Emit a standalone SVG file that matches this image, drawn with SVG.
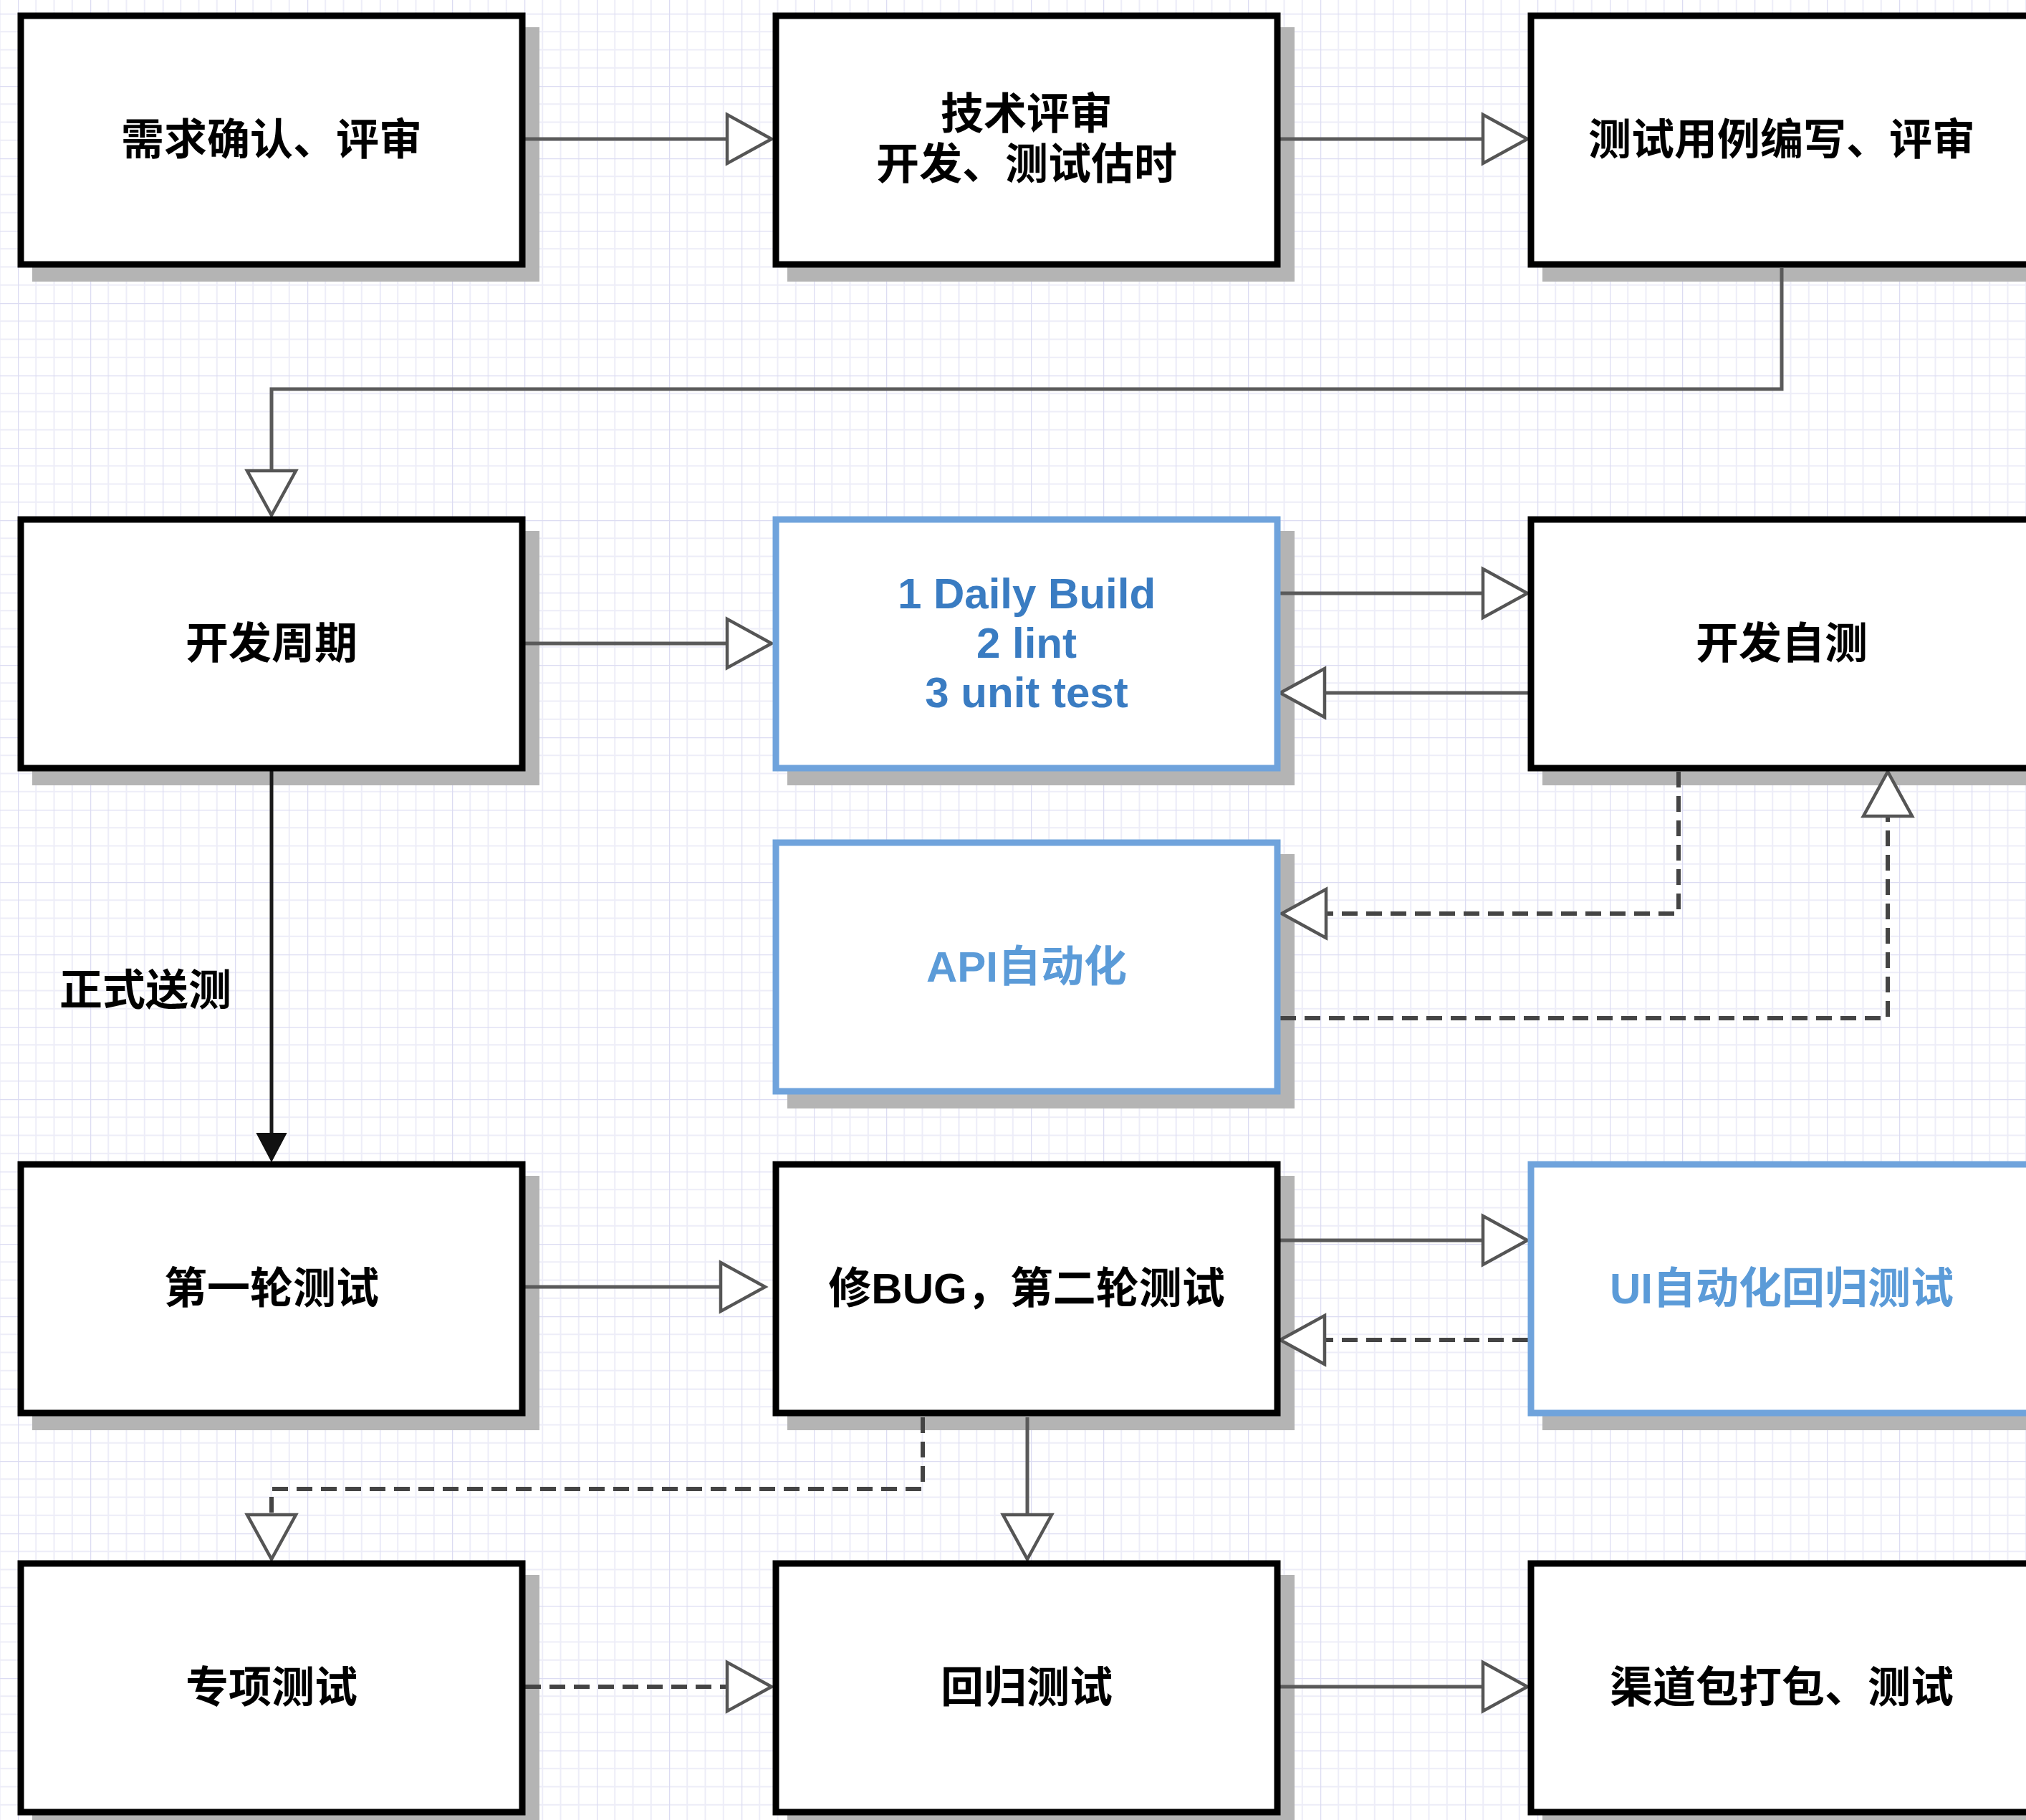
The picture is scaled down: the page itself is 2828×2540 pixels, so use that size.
<svg xmlns="http://www.w3.org/2000/svg" width="2828" height="2540" viewBox="0 0 2828 2540">
  <style>
    .box{fill:#ffffff;stroke:#000000;stroke-width:9}
    .bbox{fill:#ffffff;stroke:#6fa3dc;stroke-width:9}
    .shadow{fill:#b4b4b4}
    .t{font-family:"Liberation Sans","Noto Sans CJK SC",sans-serif;font-weight:bold;font-size:60px;text-anchor:middle;dominant-baseline:central;fill:#000000}
    .tb1{fill:#3a7cc2}
    .tb2{fill:#5b9bd8}
    .c{fill:none;stroke:#5a5a5a;stroke-width:5}
    .d{fill:none;stroke:#444444;stroke-width:6;stroke-dasharray:22 12}
    .k{fill:none;stroke:#1a1a1a;stroke-width:5}
  </style>
  <defs>
    <pattern id="grid" x="25" y="19" width="101" height="101" patternUnits="userSpaceOnUse">
      <path d="M25.25,0V101M50.5,0V101M75.75,0V101M0,25.25H101M0,50.5H101M0,75.75H101" stroke="#ededf8" stroke-width="2" fill="none"/>
      <path d="M0,0V101M0,0H101" stroke="#dcdcf2" stroke-width="2.5" fill="none"/>
    </pattern>
    <marker id="open" markerUnits="userSpaceOnUse" viewBox="-5 -5 72 78" markerWidth="72" markerHeight="78" refX="0" refY="34" orient="auto">
      <path d="M0,0 L62,34 L0,68 Z" fill="#ffffff" stroke="#555555" stroke-width="4.5" stroke-linejoin="miter"/>
    </marker>
    <marker id="filled" markerUnits="userSpaceOnUse" viewBox="-2 -2 42 44" markerWidth="42" markerHeight="44" refX="0" refY="20" orient="auto">
      <path d="M0,0 L38,20 L0,40 Z" fill="#111111" stroke="#111111" stroke-width="2"/>
    </marker>
  </defs>
  <rect x="0" y="0" width="2828" height="2540" fill="#ffffff"/>
  <rect x="0" y="0" width="2828" height="2540" fill="url(#grid)"/>

  <g id="shadows">
    <rect class="shadow" x="45" y="38" width="708" height="355"/>
    <rect class="shadow" x="1099" y="38" width="708" height="355"/>
    <rect class="shadow" x="2153" y="38" width="708" height="355"/>
    <rect class="shadow" x="45" y="741" width="708" height="355"/>
    <rect class="shadow" x="1099" y="741" width="708" height="355"/>
    <rect class="shadow" x="2153" y="741" width="708" height="355"/>
    <rect class="shadow" x="1099" y="1192" width="708" height="355"/>
    <rect class="shadow" x="45" y="1641" width="708" height="355"/>
    <rect class="shadow" x="1099" y="1641" width="708" height="355"/>
    <rect class="shadow" x="2153" y="1641" width="708" height="355"/>
    <rect class="shadow" x="45" y="2198" width="708" height="355"/>
    <rect class="shadow" x="1099" y="2198" width="708" height="355"/>
    <rect class="shadow" x="2153" y="2198" width="708" height="355"/>
  </g>

  <g id="connectors">
    <path class="c" d="M733,194 H1015" marker-end="url(#open)"/>
    <path class="c" d="M1787,194 H2070" marker-end="url(#open)"/>
    <path class="c" d="M2487,374 V543 H379 V657" marker-end="url(#open)"/>
    <path class="c" d="M733,898 H1015" marker-end="url(#open)"/>
    <path class="c" d="M1787,828 H2070" marker-end="url(#open)"/>
    <path class="c" d="M2133,967 H1849" marker-end="url(#open)"/>
    <path class="d" d="M2343,1077 V1275 H1851" marker-end="url(#open)"/>
    <path class="d" d="M1787,1421 H2635 V1139" marker-end="url(#open)"/>
    <path class="k" d="M379,1076 V1582" marker-end="url(#filled)"/>
    <path class="c" d="M733,1796 H1006" marker-end="url(#open)"/>
    <path class="c" d="M1787,1731 H2070" marker-end="url(#open)"/>
    <path class="d" d="M2133,1870 H1849" marker-end="url(#open)"/>
    <path class="d" d="M1288,1978 V2078 H379 V2114" marker-end="url(#open)"/>
    <path class="c" d="M1434,1978 V2114" marker-end="url(#open)"/>
    <path class="d" d="M733,2354 H1015" marker-end="url(#open)"/>
    <path class="c" d="M1787,2354 H2070" marker-end="url(#open)"/>
    <text class="t" x="203" y="1382">正式送测</text>
  </g>

  <g id="n1"><rect class="box" x="29" y="22" width="700" height="347"/><text class="t" x="379" y="195">需求确认、评审</text></g>
  <g id="n2"><rect class="box" x="1083" y="22" width="700" height="347"/><text class="t" x="1433" y="159">技术评审</text><text class="t" x="1433" y="229">开发、测试估时</text></g>
  <g id="n3"><rect class="box" x="2137" y="22" width="700" height="347"/><text class="t" x="2487" y="195">测试用例编写、评审</text></g>
  <g id="n4"><rect class="box" x="29" y="725" width="700" height="347"/><text class="t" x="379" y="898">开发周期</text></g>
  <g id="n5"><rect class="bbox" x="1083" y="725" width="700" height="347"/><text class="t tb1" x="1433" y="828">1 Daily Build</text><text class="t tb1" x="1433" y="897">2 lint</text><text class="t tb1" x="1433" y="966">3 unit test</text></g>
  <g id="n6"><rect class="box" x="2137" y="725" width="700" height="347"/><text class="t" x="2487" y="898">开发自测</text></g>
  <g id="n7"><rect class="bbox" x="1083" y="1176" width="700" height="347"/><text class="t tb2" x="1433" y="1349">API自动化</text></g>
  <g id="n8"><rect class="box" x="29" y="1625" width="700" height="347"/><text class="t" x="379" y="1798">第一轮测试</text></g>
  <g id="n9"><rect class="box" x="1083" y="1625" width="700" height="347"/><text class="t" x="1433" y="1798">修BUG，第二轮测试</text></g>
  <g id="n10"><rect class="bbox" x="2137" y="1625" width="700" height="347"/><text class="t tb2" x="2487" y="1798">UI自动化回归测试</text></g>
  <g id="n11"><rect class="box" x="29" y="2182" width="700" height="347"/><text class="t" x="379" y="2355">专项测试</text></g>
  <g id="n12"><rect class="box" x="1083" y="2182" width="700" height="347"/><text class="t" x="1433" y="2355">回归测试</text></g>
  <g id="n13"><rect class="box" x="2137" y="2182" width="700" height="347"/><text class="t" x="2487" y="2355">渠道包打包、测试</text></g>
</svg>
